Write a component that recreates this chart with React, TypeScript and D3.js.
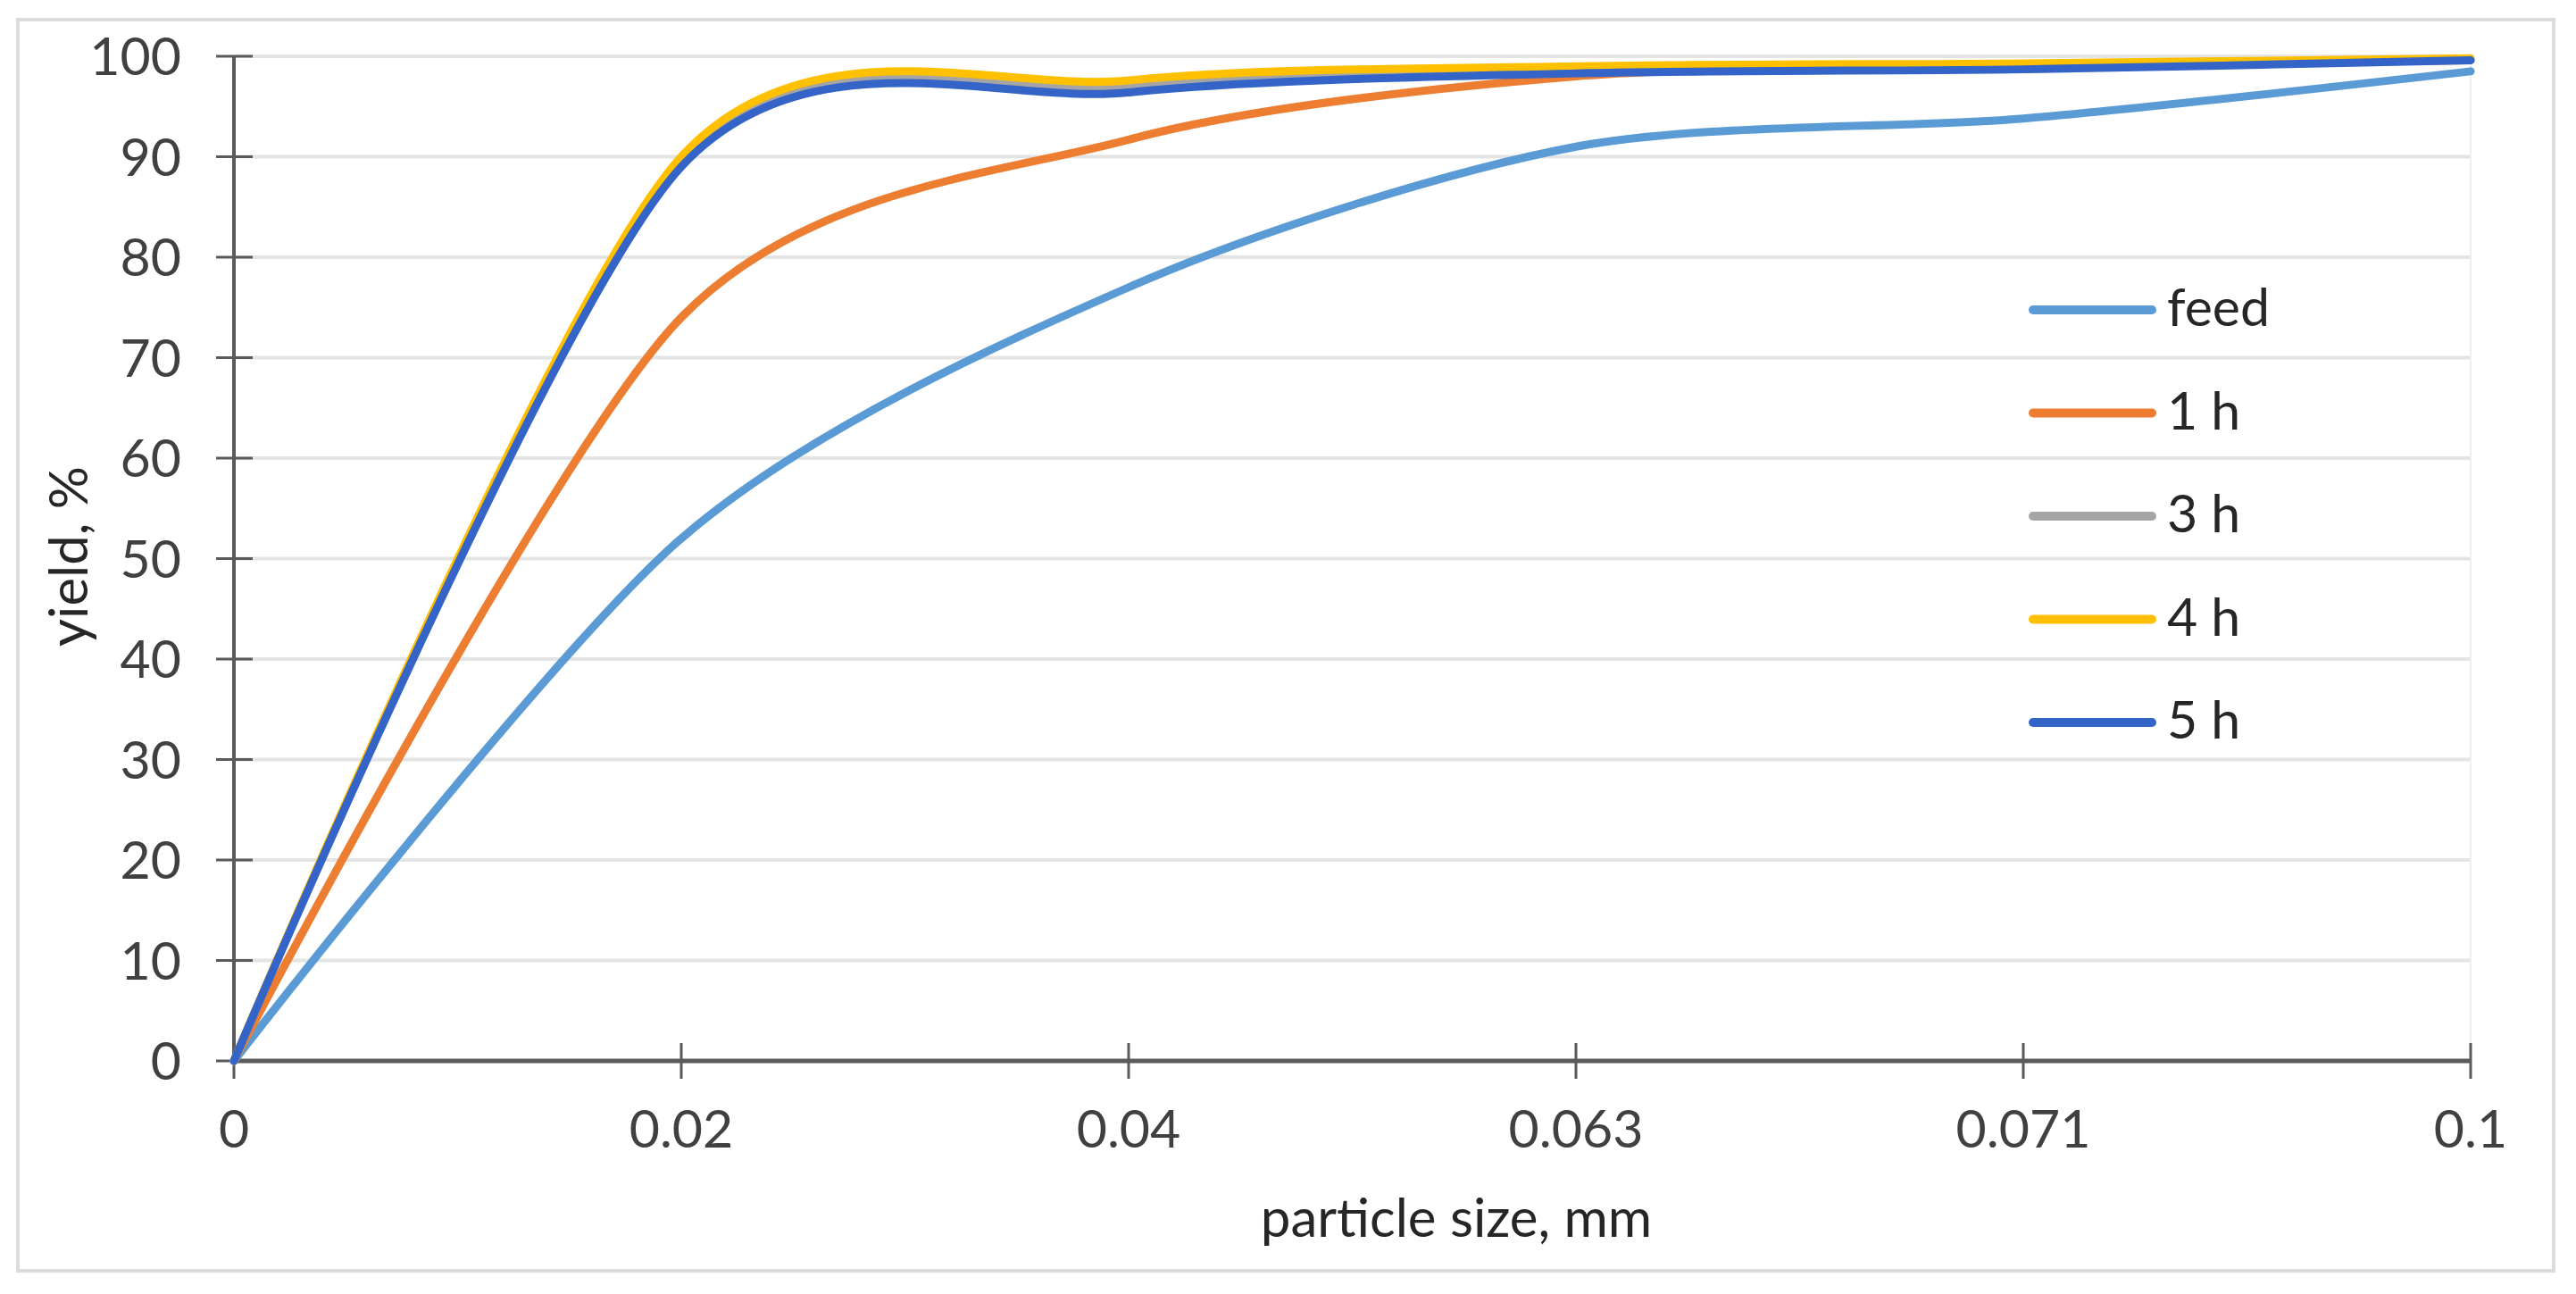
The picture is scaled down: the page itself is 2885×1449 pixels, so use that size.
import React from "react";
import * as d3 from "d3";

const categories = ["0", "0.02", "0.04", "0.063", "0.071", "0.1"];
const yTicks = [0, 10, 20, 30, 40, 50, 60, 70, 80, 90, 100];

const seriesNames = ["feed", "1 h", "3 h", "4 h", "5 h"];
const feed = [0, 52, 77, 91, 93.8, 98.5];
const h1 = [0, 74, 91.7, 98, 99, 99.6];
const h3 = [0, 89.5, 97, 98.7, 99.1, 99.7];
const h4 = [0, 90, 97.6, 99, 99.3, 99.8];
const h5 = [0, 89, 96.4, 98.3, 98.7, 99.6];
const seriesColors = ["#5B9BD5", "#ED7D31", "#A5A5A5", "#FFC000", "#3564C8"];

const W = 2885;
const H = 1449;
const FONT = "Lato, 'Open Sans', sans-serif";

export default function App() {
  const x = d3.scalePoint<string>().domain(categories).range([262, 2767]);
  const y = d3.scaleLinear().domain([0, 100]).range([1188, 63]);
  const line = d3
    .line<number>()
    .x((_, i) => x(categories[i]) as number)
    .y((d) => y(d))
    .curve(d3.curveCardinal.tension(0.15));

  const allSeries = [feed, h1, h3, h4, h5];
  const x0 = x(categories[0]) as number;
  const x1 = x(categories[categories.length - 1]) as number;

  const legendX = 2277;
  const legendY0 = 347;
  const legendStep = 115.5;

  return (
    <svg
      width={W}
      height={H}
      style={{ position: "absolute", left: 0, top: 0, background: "#ffffff" }}
      fontFamily={FONT}
    >
      <rect x={0} y={0} width={W} height={H} fill="#ffffff" />
      <rect x={20} y={22} width={2840} height={1401} fill="#ffffff" stroke="#dcdcdc" strokeWidth={4} />

      {/* gridlines */}
      {yTicks.filter((t) => t > 0).map((t) => (
        <line key={"g" + t} x1={x0} x2={x1} y1={y(t)} y2={y(t)} stroke="#e4e4e4" strokeWidth={4} />
      ))}
      <line x1={x1} x2={x1} y1={y(100)} y2={y(0)} stroke="#efefef" strokeWidth={2} />

      {/* y axis */}
      <line x1={x0} x2={x0} y1={y(100)} y2={y(0)} stroke="#5a5a5a" strokeWidth={4} />
      {yTicks.map((t) => (
        <g key={"yt" + t}>
          <line x1={x0 - 20} x2={x0 + 21} y1={y(t)} y2={y(t)} stroke="#5a5a5a" strokeWidth={3} />
          <text x={203} y={y(t)} dy="0.36em" textAnchor="end" fontSize={59} fill="#404040">
            {t}
          </text>
        </g>
      ))}

      {/* x axis */}
      <line x1={x0} x2={x1} y1={y(0)} y2={y(0)} stroke="#5a5a5a" strokeWidth={5} />
      {categories.map((c) => (
        <g key={"xt" + c}>
          <line x1={x(c)} x2={x(c)} y1={y(0) - 20} y2={y(0) + 20} stroke="#5a5a5a" strokeWidth={3} />
          <text x={x(c)} y={1285} textAnchor="middle" fontSize={59} fill="#404040">
            {c}
          </text>
        </g>
      ))}

      {/* series */}
      {allSeries.map((s, i) => (
        <path
          key={"s" + i}
          d={line(s) || ""}
          fill="none"
          stroke={seriesColors[i]}
          strokeWidth={9}
          strokeLinejoin="round"
          strokeLinecap="round"
        />
      ))}

      {/* legend */}
      {seriesNames.map((n, i) => (
        <g key={"l" + i}>
          <line
            x1={legendX}
            x2={legendX + 133}
            y1={legendY0 + i * legendStep}
            y2={legendY0 + i * legendStep}
            stroke={seriesColors[i]}
            strokeWidth={10}
            strokeLinecap="round"
          />
          <text x={2427} y={legendY0 + i * legendStep + 18} fontSize={59} fill="#262626">
            {n}
          </text>
        </g>
      ))}

      {/* axis titles */}
      <text x={1631} y={1385} textAnchor="middle" fontSize={60} fill="#262626">
        particle size, mm
      </text>
      <text transform="translate(98,623) rotate(-90)" textAnchor="middle" fontSize={60} fill="#262626">
        yield, %
      </text>
    </svg>
  );
}
